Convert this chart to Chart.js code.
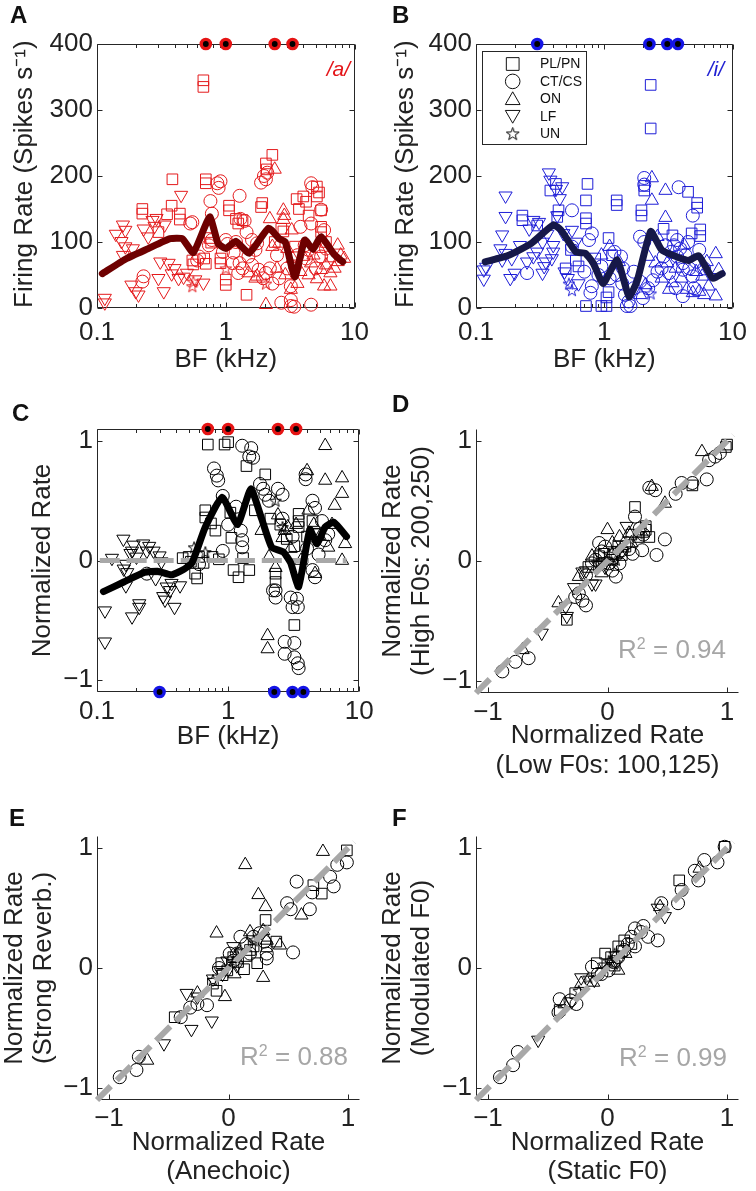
<!DOCTYPE html>
<html><head><meta charset="utf-8">
<script src="https://cdn.jsdelivr.net/npm/chart.js@4.4.0/dist/chart.umd.min.js"></script>
<style>
html,body{margin:0;padding:0;background:#fff;}
body{width:756px;height:1191px;position:relative;overflow:hidden;font-family:"Liberation Sans",Arial,sans-serif;}
canvas{position:absolute;}
.lbl{position:absolute;font-weight:bold;font-size:24px;line-height:24px;color:#111;}
.r2{position:absolute;font-size:26px;line-height:26px;color:#a6a6a6;white-space:nowrap;text-align:right;}
.r2 span{font-size:16px;position:relative;top:-9px;}
.vow{position:absolute;font-style:italic;font-size:21px;line-height:21px;white-space:nowrap;}
</style></head><body>
<canvas id="cA" width="378" height="378" style="left:0;top:0"></canvas>
<canvas id="cB" width="378" height="378" style="left:378px;top:0"></canvas>
<canvas id="cC" width="378" height="412" style="left:0;top:378px"></canvas>
<canvas id="cD" width="378" height="412" style="left:378px;top:378px"></canvas>
<canvas id="cE" width="378" height="401" style="left:0;top:790px"></canvas>
<canvas id="cF" width="378" height="401" style="left:378px;top:790px"></canvas>
<div class="lbl" style="left:10px;top:3px">A</div>
<div class="lbl" style="left:392px;top:3px">B</div>
<div class="lbl" style="left:12px;top:401px">C</div>
<div class="lbl" style="left:392px;top:392px">D</div>
<div class="lbl" style="left:9px;top:806px">E</div>
<div class="lbl" style="left:392px;top:806px">F</div>
<div class="vow" style="right:406px;top:58px;color:rgb(228,20,24)">/a/</div>
<div class="vow" style="right:32px;top:58px;color:rgb(30,30,210)">/i/</div>
<div class="r2" style="right:30px;top:636px">R<span>2</span> = 0.94</div>
<div class="r2" style="right:408px;top:1043px">R<span>2</span> = 0.88</div>
<div class="r2" style="right:29px;top:1044px">R<span>2</span> = 0.99</div>
<script>
// ---------------- DATA ----------------
const logTicks = [0.1,0.2,0.3,0.4,0.5,0.6,0.7,0.8,0.9,1,2,3,4,5,6,7,8,9,10];
const rateTicks = [0,100,200,300,400];
const normTicks = [-1,0,1];
const vowelA_formants = [0.7, 1.0, 2.4, 3.3];   // kHz
const vowelI_formants = [0.3, 2.25, 3.1, 3.75]; // kHz

// Panel A (/a/): [BF kHz, rate spikes/s]
const aSquare = [[0.67,345],[0.67,335],[0.385,195],[0.70,195],[0.70,189],[0.225,150],[0.225,143],[0.38,155],[0.44,143],[0.44,134],[0.68,75],[0.70,67],[0.55,72],[0.56,66],[0.75,106],[0.77,99],[0.91,75],[0.91,68],[1.06,155],[1.06,148],[1.0,43],[1.0,35],[1.2,135],[1.25,128],[1.35,133],[1.45,20],[1.92,159],[1.88,153],[2.05,219],[2.3,232],[2.08,210],[2.7,120],[2.8,116],[3.55,165],[3.45,93],[4.0,169],[4.2,161],[5.1,184],[5.3,175],[5.1,169],[5.5,148],[5.5,123],[5.5,115],[6.5,78],[0.35,142],[0.3,115],[2.4,100],[3.7,150],[4.4,140],[6.0,100]];
const aCircle = [[0.23,48],[0.225,40],[0.53,128],[0.55,130],[0.6,72],[0.76,162],[0.78,143],[0.78,103],[0.74,95],[0.86,189],[0.91,192],[0.88,182],[1.0,103],[1.03,97],[1.13,68],[1.28,68],[1.25,53],[1.3,135],[1.4,132],[1.28,170],[1.45,115],[1.6,103],[1.75,98],[1.5,78],[1.6,65],[1.8,58],[2.05,53],[1.95,45],[1.88,190],[1.98,200],[2.05,195],[2.1,205],[2.3,37],[2.7,8],[3.2,12],[3.4,2],[3.2,3],[3.2,33],[3.8,123],[3.45,63],[4.6,189],[4.7,183],[5.5,149],[4.6,128],[5.8,118],[4.1,95],[4.4,88],[4.6,5],[5.5,78],[2.5,80],[1.2,100],[0.62,78],[1.15,84],[1.7,88],[2.2,60],[2.6,45],[3.0,60],[3.6,80],[4.2,75],[5.0,60],[6.0,90],[1.35,60],[0.95,85]];
const aUp = [[2.05,5],[1.75,48],[2.4,210],[2.2,135],[2.3,93],[2.6,98],[2.8,148],[2.85,140],[2.8,134],[3.25,118],[3.6,37],[3.2,28],[4.6,68],[4.4,50],[5.1,44],[5.8,33],[6.5,53],[7.4,95],[7.8,80],[7.4,70],[5.5,58],[6.5,33],[8.3,75],[3.0,90],[4.0,78],[1.5,53],[1.7,45],[2.5,60],[3.3,75],[4.8,80],[5.3,90],[6.0,65],[7.0,60],[2.9,50],[3.8,55]];
const aDown = [[0.115,15],[0.115,8],[0.159,126],[0.166,118],[0.155,101],[0.166,93],[0.159,80],[0.19,90],[0.185,35],[0.2,25],[0.21,20],[0.27,133],[0.29,136],[0.335,126],[0.25,108],[0.33,25],[0.36,68],[0.4,60],[0.38,52],[0.43,45],[0.47,47],[0.45,171],[0.58,43],[0.67,38],[0.23,120],[0.31,70],[0.28,124],[0.14,112],[0.3,45],[0.5,53]];
const aStar = [[0.55,33],[0.56,40],[2.05,37],[1.0,60]];
const aCurve = [[0.11,52],[0.17,75],[0.25,90],[0.37,105],[0.46,105],[0.56,84],[0.75,138],[0.87,98],[1.0,90],[1.2,101],[1.52,83],[2.15,121],[2.6,105],[2.9,100],[3.44,47],[4.1,103],[4.75,89],[5.5,108],[6.95,81],[8.1,70]];

// Panel B (/i/)
const bSquare = [[2.3,338],[2.3,272],[0.23,140],[0.23,133],[0.38,178],[0.42,188],[0.74,188],[0.72,163],[0.72,136],[0.72,128],[1.08,106],[1.25,163],[1.25,156],[0.6,72],[0.63,63],[1.95,148],[1.95,140],[2.05,185],[2.05,178],[4.5,176],[5.3,159],[5.3,152],[5.6,119],[5.6,109],[2.9,120],[1.08,24],[1.04,16],[0.72,3],[1.04,3],[0.95,3],[0.44,148],[0.43,138],[0.3,125],[0.55,88],[0.85,75],[1.15,80],[3.4,110],[4.8,113],[0.5,60]];
const bCircle = [[0.56,148],[2.05,197],[2.05,187],[3.8,183],[4.9,140],[1.25,50],[1.38,37],[1.45,20],[1.55,10],[1.6,3],[1.5,3],[0.8,113],[0.76,103],[0.95,63],[0.9,50],[0.8,33],[0.78,23],[1.9,108],[2.05,100],[3.7,103],[3.5,95],[4.1,68],[4.1,58],[2.9,78],[5.5,88],[0.25,53],[4.1,18],[4.9,48],[0.56,93],[2.4,42],[3.2,53],[1.35,78],[3.7,78],[1.7,30],[2.0,15],[4.5,100],[3.0,95],[1.2,85],[1.4,60],[1.7,55],[1.9,40],[2.2,30],[2.6,55],[2.8,60],[3.3,85],[3.9,90],[4.3,80],[4.6,60],[5.2,70],[6.0,60],[5.0,30],[3.6,30],[1.1,45],[0.7,55]];
const bUp = [[2.35,197],[2.35,163],[3.0,178],[3.0,137],[2.6,108],[2.5,68],[3.4,38],[3.2,28],[4.4,28],[4.9,23],[7.4,82],[7.8,58],[7.4,18],[6.5,33],[5.8,48],[1.1,93],[3.1,68],[2.2,78],[4.0,45],[6.0,20],[1.9,20],[2.1,35],[2.8,45],[3.6,60],[4.2,95],[5.2,55],[6.3,70],[5.5,25],[1.3,70],[0.95,80]];
const bDown = [[0.115,58],[0.115,44],[0.12,62],[0.17,170],[0.17,139],[0.16,111],[0.155,90],[0.17,83],[0.16,73],[0.19,75],[0.2,53],[0.185,45],[0.26,120],[0.28,133],[0.31,130],[0.28,78],[0.25,70],[0.33,53],[0.34,63],[0.37,205],[0.38,194],[0.47,184],[0.45,166],[0.42,180],[0.43,140],[0.4,95],[0.4,85],[0.39,75],[0.48,113],[0.56,118],[0.52,45],[0.49,55],[0.63,37],[0.33,100],[0.22,95],[0.3,85],[0.36,112],[0.6,100],[0.35,70]];
const bStar = [[0.56,27],[0.53,37],[2.3,22]];
const bCurve = [[0.118,70],[0.18,80],[0.27,98],[0.40,126],[0.46,118],[0.60,85],[0.71,83],[0.82,68],[0.98,37],[1.26,73],[1.56,17],[1.81,42],[2.3,116],[2.8,88],[3.5,79],[4.5,72],[5.45,79],[7.0,45],[8.3,52]];

// Panel C: [BF kHz, normalized rate]
const cSquare = [[0.70,0.97],[1.0,0.99],[0.94,0.97],[1.38,0.79],[1.92,0.72],[0.67,0.42],[0.67,0.36],[0.74,0.31],[0.8,0.25],[1.06,0.19],[1.04,0.4],[1.1,-0.08],[1.2,-0.14],[1.45,-0.08],[0.56,-0.11],[0.58,-0.15],[0.52,-0.01],[3.2,-0.54],[2.3,-0.11],[2.3,-0.18],[3.45,0.39],[3.45,0.33],[4.4,0.33],[4.9,0.22],[1.6,0.42],[0.76,0.03],[3.45,0.28],[0.45,0.02],[0.5,0.03],[0.6,0.03],[0.65,-0.02],[0.85,0.01],[1.3,0.02],[2.5,0.3],[2.8,0.18],[3.2,0.12],[4.0,0.2],[2.1,0.35]];
const cCircle = [[1.28,0.96],[1.5,0.94],[1.45,0.87],[1.55,0.86],[0.78,0.77],[0.82,0.71],[0.84,0.67],[0.91,0.54],[1.75,0.64],[1.85,0.6],[1.92,0.55],[2.05,0.5],[1.25,0.25],[1.28,0.17],[1.28,0.11],[2.2,-0.25],[2.3,-0.31],[3.0,-0.31],[3.35,-0.32],[3.1,-0.39],[3.4,-0.39],[2.7,-0.68],[3.2,-0.69],[2.7,-0.78],[3.2,-0.81],[3.4,-0.86],[3.45,-0.9],[0.24,-0.11],[0.6,-0.03],[4.4,0.5],[4.6,0.44],[3.9,0.72],[3.9,0.68],[5.2,0.33],[5.5,0.17],[0.91,0.08],[2.3,-0.25],[4.4,-0.08],[4.6,-0.14],[2.6,0.35],[3.1,0.2],[4.0,0.1],[4.9,0.05],[5.8,0.22],[1.0,0.3],[1.15,0.45],[2.4,0.6],[2.6,0.55]];
const cUp = [[5.5,0.96],[4.0,0.75],[5.5,0.67],[7.4,0.69],[7.4,0.56],[6.5,0.46],[2.85,0.28],[2.7,0.25],[2.6,0.19],[2.05,0.03],[2.3,-0.06],[2.0,-0.63],[2.0,-0.74],[7.4,0.0],[7.8,0.14],[4.1,0.42],[4.6,-0.11],[1.8,0.25],[3.6,0.0],[5.8,0.11],[3.3,0.3],[4.5,0.3],[5.0,0.2],[6.2,0.3],[3.0,0.1],[2.4,0.38]];
const cDown = [[0.115,-0.42],[0.115,-0.68],[0.159,0.18],[0.166,-0.03],[0.16,-0.07],[0.17,-0.1],[0.185,0.08],[0.19,0.13],[0.18,0.06],[0.225,0.14],[0.25,0.12],[0.24,0.08],[0.21,-0.36],[0.21,-0.39],[0.185,-0.47],[0.27,0.08],[0.3,0.04],[0.31,-0.01],[0.32,-0.3],[0.34,-0.22],[0.37,-0.19],[0.39,-0.39],[0.33,-0.33],[0.36,-0.25],[0.43,-0.21],[0.166,-0.21],[0.13,0.02],[0.2,0.03],[0.28,-0.15]];
const cStar = [[0.55,0.11],[2.3,0.5],[2.6,0.28],[0.67,0.07]];
const cCurve = [[0.112,-0.26],[0.16,-0.18],[0.23,-0.1],[0.29,-0.09],[0.37,-0.12],[0.45,-0.08],[0.53,-0.02],[0.67,0.28],[0.9,0.53],[1.18,0.3],[1.49,0.6],[1.8,0.35],[2.15,0.11],[2.64,0.07],[3.0,-0.02],[3.45,-0.22],[4.2,0.26],[4.75,0.14],[5.5,0.28],[6.4,0.32],[8.0,0.2]];
const cZero = [[0.105,0],[8.0,0]];

// Panel D: [low F0s, high F0s]
const dSquare = [[-0.34,-0.49],[-0.16,-0.05],[-0.07,0.04],[-0.03,0.06],[0.23,0.45],[0.32,0.26],[0.35,0.2],[0.71,0.63],[1.0,0.97],[0.99,0.95],[0.04,0.01],[0.09,0.12],[0.26,0.2],[0.32,0.29],[0.2,0.22],[0.15,0.12],[-0.05,-0.02],[0.12,0.05]];
const dCircle = [[-0.88,-0.92],[-0.77,-0.84],[-0.66,-0.81],[-0.21,-0.33],[-0.27,-0.3],[-0.18,-0.37],[0.07,-0.13],[0.04,-0.08],[0.21,0.06],[0.29,0.09],[0.41,0.05],[0.48,0.18],[0.35,0.61],[0.4,0.59],[0.57,0.56],[0.62,0.65],[0.71,0.65],[0.83,0.68],[0.9,0.87],[0.85,0.84],[0.94,0.9],[0.23,0.37],[0.12,0.09],[-0.02,0.12],[-0.07,0.15],[0.16,0.15],[-0.1,0.01],[-0.13,-0.02],[0.01,-0.02],[0.1,-0.02],[-0.24,-0.27],[-0.05,0.08],[0.05,0.05],[0.18,0.1],[-0.18,-0.12],[0.3,0.22],[0.27,0.27]];
const dUp = [[-0.71,-0.74],[-0.24,-0.13],[0.0,0.26],[0.37,0.62],[0.48,0.48],[0.79,0.91],[-0.41,-0.35],[-0.13,0.04],[0.29,0.23],[0.04,0.15],[0.18,0.23],[0.1,0.2],[-0.05,-0.1],[0.2,0.15]];
const dDown = [[-0.55,-0.6],[-0.34,-0.46],[-0.35,-0.38],[-0.18,-0.08],[-0.1,-0.19],[0.04,-0.02],[0.16,0.29],[-0.13,-0.19],[-0.21,-0.09],[-0.02,-0.05],[0.09,0.09],[-0.08,-0.03],[0.12,0.08],[-0.28,-0.22]];
const dStar = [[0.07,0.01],[0.26,0.23],[-0.07,-0.02],[0.01,0.06]];

// Panel E: [anechoic, strong reverb]
const eSquare = [[-0.45,-0.41],[-0.1,-0.19],[-0.06,0.04],[0.13,-0.01],[0.31,0.4],[0.4,0.22],[0.32,0.18],[0.24,0.04],[0.71,0.69],[0.78,0.62],[0.99,0.98],[0.04,0.09],[0.18,0.15],[-0.01,-0.02],[-0.13,-0.13],[0.21,0.18],[0.08,0.05],[0.15,0.1],[-0.05,-0.06]];
const eCircle = [[-0.91,-0.91],[-0.75,-0.74],[-0.77,-0.85],[-0.4,-0.41],[-0.32,-0.33],[-0.18,-0.31],[-0.26,-0.3],[0.1,0.26],[0.54,0.13],[0.32,0.12],[0.32,0.08],[0.49,0.54],[0.52,0.49],[0.57,0.72],[0.68,0.49],[0.88,0.68],[0.85,0.76],[0.99,0.88],[0.91,0.86],[0.7,0.63],[0.21,0.26],[0.04,0.06],[0.15,0.2],[0.01,0.12],[0.26,0.29],[0.07,0.12],[0.18,0.12],[-0.08,0.0],[0.3,0.22]];
const eUp = [[0.14,0.86],[0.25,0.61],[0.31,0.51],[-0.1,0.29],[0.29,-0.08],[-0.03,-0.24],[-0.68,-0.77],[0.61,0.44],[0.79,0.97],[0.43,0.19],[-0.26,-0.21],[0.29,0.31],[0.32,0.23],[0.18,0.3],[0.05,-0.05]];
const eDown = [[-0.54,-0.63],[-0.31,-0.51],[-0.14,-0.44],[-0.35,-0.21],[-0.26,-0.24],[-0.13,-0.09],[0.04,0.18],[-0.01,0.06],[-0.07,-0.02],[0.1,0.12],[-0.05,-0.05],[0.07,0.02]];
const eStar = [[-0.13,-0.1],[0.04,0.06],[0.21,0.23],[0.1,0.15]];

// Panel F: [static F0, modulated F0]
const fSquare = [[0.6,0.73],[0.98,1.01],[-0.27,-0.21],[-0.4,-0.35],[0.09,0.18],[0.03,0.09],[0.14,0.23],[-0.09,0.04],[0.2,0.2],[-0.02,0.12],[0.12,0.14],[0.06,0.02]];
const fCircle = [[-0.9,-0.91],[-0.79,-0.81],[-0.75,-0.7],[-0.4,-0.26],[-0.26,-0.3],[-0.41,-0.37],[-0.13,0.01],[0.01,-0.02],[0.2,0.26],[0.34,0.26],[0.23,0.33],[0.45,0.54],[0.59,0.54],[0.62,0.65],[0.76,0.73],[0.73,0.81],[0.81,0.9],[0.92,0.88],[0.98,1.01],[0.42,0.23],[0.23,0.18],[0.14,0.15],[0.09,0.09],[-0.08,-0.05],[-0.31,-0.27],[0.05,0.05],[0.17,0.2],[0.28,0.3],[-0.05,-0.05],[0.3,0.35]];
const fUp = [[0.44,0.51],[0.77,0.83],[-0.22,-0.13],[-0.36,-0.3],[0.09,-0.02],[0.03,0.04],[0.15,0.12],[-0.12,-0.12]];
const fDown = [[-0.58,-0.6],[0.48,0.43],[0.42,0.5],[-0.22,-0.08],[-0.11,-0.1],[-0.02,0.01],[0.08,0.05],[-0.3,-0.28]];
const fStar = [[0.01,0.06],[-0.16,-0.08],[-0.24,-0.19],[0.06,0.12]];

const diagonal = [[-1.1,-1.1],[1.05,1.05]];

// ---------------- STYLE / HELPERS ----------------
Chart.defaults.font.family = '"Liberation Sans", Arial, sans-serif';
Chart.defaults.color = '#222';
const RED = 'rgb(228,26,28)', BLUE = 'rgb(30,30,215)', BLACK = '#000';
const AXIS = '#262626';

function starImg(color, size) {
  const c = document.createElement('canvas');
  c.width = c.height = size;
  const g = c.getContext('2d');
  g.strokeStyle = color; g.lineWidth = 1;
  const cx = size / 2, cy = size / 2 + 0.6, R = size / 2 - 0.8, r = R * 0.4;
  g.beginPath();
  for (let i = 0; i < 10; i++) {
    const a = -Math.PI / 2 + i * Math.PI / 5, rad = i % 2 ? r : R;
    const px = cx + rad * Math.cos(a), py = cy + rad * Math.sin(a);
    if (i) g.lineTo(px, py); else g.moveTo(px, py);
  }
  g.closePath(); g.stroke();
  return c;
}
const P = a => a.map(([x, y]) => ({x, y}));

function markerSets(s, color) {
  const star = starImg(color, 14);
  const base = {showLine: false, pointBorderColor: color, pointBackgroundColor: 'rgba(0,0,0,0)', pointBorderWidth: 1, order: 5, clip: false};
  return [
    {data: P(s.sq), pointStyle: 'rect', pointRadius: 7.5},
    {data: P(s.ci), pointStyle: 'circle', pointRadius: 6.5},
    {data: P(s.up), pointStyle: 'triangle', pointRadius: 7.6},
    {data: P(s.dn), pointStyle: 'triangle', pointRotation: 180, pointRadius: 7.6},
    {data: P(s.st), pointStyle: star, pointRadius: 7}
  ].map(d => Object.assign({}, base, d));
}
function curve(arr, color, width, dash, order) {
  return {data: P(arr), showLine: true, pointRadius: 0, borderColor: color, borderWidth: width,
    borderDash: dash || [], borderJoinStyle: 'round', borderCapStyle: dash ? 'butt' : 'round',
    order: order, clip: false, tension: 0.15};
}
function formantDots(freqs, yVal, color) {
  return {data: freqs.map(f => ({x: f, y: yVal})), showLine: false, pointStyle: 'circle',
    pointRadius: 4.6, pointBorderWidth: 3.4, pointBorderColor: color, pointBackgroundColor: '#000', order: 0, clip: false};
}

const decLbl = {0.1: '0.1', 1: '1', 10: '10'};
const signed = v => v < 0 ? '\u2212' + (-v) : String(v);

function setTicks(vals) { return s => { s.ticks = vals.map(v => ({value: v})); }; }

const framePlugin = {
  id: 'frame',
  beforeDatasetsDraw(chart, args, o) {
    const {ctx, chartArea: a, scales: {x, y}} = chart;
    const L = Math.round(a.left) + 0.5, R = Math.round(a.right) - 0.5;
    const T = Math.round(a.top) + 0.5, B = Math.round(a.bottom) - 0.5;
    ctx.save();
    ctx.strokeStyle = AXIS; ctx.lineWidth = 1;
    ctx.beginPath();
    if (o.box) { ctx.rect(L, T, R - L, B - T); }
    else { ctx.moveTo(L, T); ctx.lineTo(L, B); ctx.lineTo(R, B); }
    x.ticks.forEach(t => {
      const px = Math.round(x.getPixelForValue(t.value)) + 0.5;
      const len = t.label ? 5 : 3.5;
      ctx.moveTo(px, B); ctx.lineTo(px, B - len);
      if (o.box) { ctx.moveTo(px, T); ctx.lineTo(px, T + len); }
    });
    y.ticks.forEach(t => {
      const py = Math.round(y.getPixelForValue(t.value)) + 0.5;
      ctx.moveTo(L, py); ctx.lineTo(L + 5, py);
      if (o.box) { ctx.moveTo(R, py); ctx.lineTo(R - 5, py); }
    });
    ctx.stroke();
    ctx.restore();
  }
};

const legendPlugin = {
  id: 'legendBox',
  afterDraw(chart) {
    const ctx = chart.ctx;
    ctx.save();
    ctx.fillStyle = '#fff';
    ctx.fillRect(104.5, 51.5, 104, 93);
    ctx.strokeStyle = AXIS; ctx.lineWidth = 1;
    ctx.strokeRect(104.5, 51.5, 104, 93);
    const items = [
      {t: 'PL/PN', s: 'rect', r: 9, rot: 0},
      {t: 'CT/CS', s: 'circle', r: 7.3, rot: 0},
      {t: 'ON', s: 'triangle', r: 8.5, rot: 0},
      {t: 'LF', s: 'triangle', r: 8.5, rot: 180},
      {t: 'UN', s: starImg('#000', 15), r: 7, rot: 0}
    ];
    ctx.font = '14px "Liberation Sans", Arial, sans-serif';
    ctx.textBaseline = 'middle'; ctx.textAlign = 'left';
    items.forEach((it, i) => {
      const yy = 64 + 17.4 * i;
      ctx.strokeStyle = '#111'; ctx.fillStyle = 'rgba(0,0,0,0)'; ctx.lineWidth = 1;
      Chart.helpers.drawPoint(ctx, {pointStyle: it.s, rotation: it.rot, radius: it.r, borderWidth: 1}, 134.7, yy + (it.s === 'triangle' ? (it.rot ? -1.5 : 1.5) : 0));
      ctx.fillStyle = '#111';
      ctx.fillText(it.t, 162, yy + 0.5);
    });
    ctx.restore();
  }
};

const TF = {size: 26, lineHeight: 1.12};
const TK = {size: 26};

function makeChart(id, c) {
  return new Chart(document.getElementById(id), {
    type: 'scatter',
    data: {datasets: c.datasets},
    options: {
      responsive: false, animation: false, events: [],
      layout: {padding: {left: 0, right: c.padR, top: c.padT, bottom: 0}},
      plugins: {legend: {display: false}, tooltip: {enabled: false}, frame: {box: c.box}},
      scales: {
        x: Object.assign({
          position: 'bottom',
          grid: {display: false, drawTicks: false}, border: {display: false},
          afterFit: s => { s.height = c.xh; }
        }, c.x),
        y: Object.assign({
          position: 'left',
          grid: {display: false, drawTicks: false}, border: {display: false},
          afterFit: s => { s.width = c.yw; }
        }, c.y)
      }
    },
    plugins: [framePlugin].concat(c.extra || [])
  });
}

function logX(pad, title, tpb) {
  return {type: 'logarithmic', min: 0.1, max: 10, afterBuildTicks: setTicks(logTicks),
    ticks: {autoSkip: false, maxRotation: 0, padding: pad, font: TK, color: '#222', callback: v => decLbl[v] ?? ''},
    title: {display: true, text: title, font: TF, color: '#222', padding: {top: 0, bottom: tpb}}};
}
function normAxis(pad, title, tpad, isY) {
  return {type: 'linear', min: -1.1, max: 1.1, afterBuildTicks: setTicks(normTicks),
    ticks: {autoSkip: false, maxRotation: 0, padding: pad, font: TK, color: '#222', callback: signed},
    title: {display: true, text: title, font: TF, color: '#222', padding: isY ? {top: tpad, bottom: 0} : {top: 0, bottom: tpad}}};
}
function rateY(tpad) {
  return {type: 'linear', min: 0, max: 400, afterBuildTicks: setTicks(rateTicks),
    ticks: {autoSkip: false, padding: 4, font: TK, color: '#222', callback: v => String(v)},
    title: {display: true, text: 'Firing Rate (Spikes s\u207B\u00B9)', align: 'start', font: TF, color: '#222', padding: {top: tpad, bottom: 0}}};
}

// Panel A
makeChart('cA', {
  padT: 44, padR: 18, xh: 70, yw: 97, box: true,
  x: logX(9, 'BF (kHz)', 4), y: rateY(10),
  datasets: [formantDots(vowelA_formants, 400, 'rgb(230,20,20)'),
    curve(aCurve, 'rgb(110,0,0)', 7, null, 1)]
    .concat(markerSets({sq: aSquare, ci: aCircle, up: aUp, dn: aDown, st: aStar}, RED))
});
// Panel B
makeChart('cB', {
  padT: 44, padR: 17, xh: 70, yw: 98, box: true,
  x: logX(9, 'BF (kHz)', 4), y: rateY(13),
  datasets: [formantDots(vowelI_formants, 400, 'rgb(20,20,230)'),
    curve(bCurve, 'rgb(22,24,72)', 7, null, 1)]
    .concat(markerSets({sq: bSquare, ci: bCircle, up: bUp, dn: bDown, st: bStar}, BLUE)),
  extra: [legendPlugin]
});
// Panel C
makeChart('cC', {
  padT: 51, padR: 18, xh: 98, yw: 97, box: true,
  x: logX(4.3, 'BF (kHz)', 39), y: normAxis(4, 'Normalized Rate', 28, true),
  datasets: [formantDots(vowelA_formants, 1.1, 'rgb(230,20,20)'),
    formantDots(vowelI_formants, -1.1, 'rgb(20,20,230)'),
    curve(cCurve, '#000', 7, null, 1),
    curve(cZero, '#a8a8a8', 5, [20, 7], 2)]
    .concat(markerSets({sq: cSquare, ci: cCircle, up: cUp, dn: cDown, st: cStar}, BLACK))
});
// Panel D
makeChart('cD', {
  padT: 51, padR: 17, xh: 97, yw: 98, box: false,
  x: normAxis(4.3, ['Normalized Rate', '(Low F0s: 100,125)'], 10, false),
  y: normAxis(4, ['Normalized Rate', '(High F0s: 200,250)'], 0, true),
  datasets: [curve(diagonal, '#a8a8a8', 6, [20, 8], 1)]
    .concat(markerSets({sq: dSquare, ci: dCircle, up: dUp, dn: dDown, st: dStar}, BLACK))
});
// Panel E
makeChart('cE', {
  padT: 46, padR: 18, xh: 91, yw: 97, box: false,
  x: normAxis(3, ['Normalized Rate', '(Anechoic)'], 4.5, false),
  y: normAxis(4, ['Normalized Rate', '(Strong Reverb.)'], 0, true),
  datasets: [curve(diagonal, '#a8a8a8', 6, [20, 8], 1)]
    .concat(markerSets({sq: eSquare, ci: eCircle, up: eUp, dn: eDown, st: eStar}, BLACK))
});
// Panel F
makeChart('cF', {
  padT: 46, padR: 17, xh: 91, yw: 98, box: false,
  x: normAxis(3, ['Normalized Rate', '(Static F0)'], 4.5, false),
  y: normAxis(4, ['Normalized Rate', '(Modulated F0)'], 0, true),
  datasets: [curve(diagonal, '#a8a8a8', 6, [20, 8], 1)]
    .concat(markerSets({sq: fSquare, ci: fCircle, up: fUp, dn: fDown, st: fStar}, BLACK))
});
</script>
</body></html>
